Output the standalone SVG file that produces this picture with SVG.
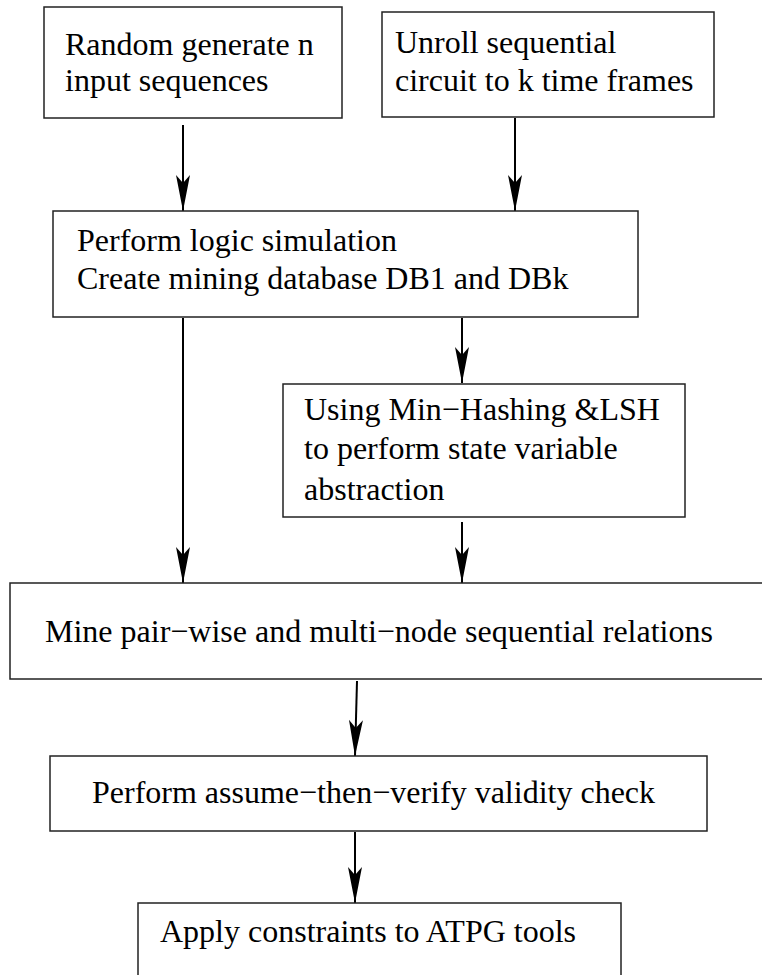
<svg xmlns="http://www.w3.org/2000/svg" width="762" height="975" viewBox="0 0 762 975">
  <style>
    .box { fill: #ffffff; stroke: #222222; stroke-width: 1.5; }
    .lbl { font-family: "Liberation Serif", "Times New Roman", serif; font-size: 32px; fill: #000000; }
    .wire { stroke: #000000; stroke-width: 2; fill: none; marker-end: url(#head); }
  </style>
  <defs>
    <!-- long barbed arrowhead, tip at the path end -->
    <marker id="head" markerUnits="userSpaceOnUse" markerWidth="40" markerHeight="16" viewBox="0 -8 38 16" refX="36" refY="0" orient="auto">
      <path d="M36,0 L0,-7 L8,0 L0,7 Z" fill="#000000"/>
    </marker>
  </defs>
  <rect width="762" height="975" fill="#ffffff"/>

  <g id="connectors">
    <line class="wire" x1="183" y1="125" x2="183" y2="211"/>
    <line class="wire" x1="515" y1="118" x2="515" y2="211"/>
    <line class="wire" x1="462" y1="318" x2="462" y2="383"/>
    <line class="wire" x1="183" y1="318" x2="183" y2="583"/>
    <line class="wire" x1="462" y1="522" x2="462" y2="583"/>
    <line class="wire" x1="357" y1="681" x2="355" y2="756"/>
    <line class="wire" x1="355" y1="832" x2="355" y2="903"/>
  </g>

  <g id="random-inputs">
    <rect class="box" x="44" y="7" width="298" height="111"/>
    <text class="lbl" x="65" y="55">Random generate n</text>
    <text class="lbl" x="65" y="91">input sequences</text>
  </g>

  <g id="unroll">
    <rect class="box" x="382" y="12" width="332" height="105"/>
    <text class="lbl" x="395" y="53">Unroll sequential</text>
    <text class="lbl" x="395" y="91">circuit to k time frames</text>
  </g>

  <g id="simulation">
    <rect class="box" x="53" y="211" width="585" height="106"/>
    <text class="lbl" x="77" y="251">Perform logic simulation</text>
    <text class="lbl" x="77" y="289">Create mining database DB1 and DBk</text>
  </g>

  <g id="abstraction">
    <rect class="box" x="283" y="384" width="402" height="133"/>
    <text class="lbl" x="304" y="420">Using Min−Hashing &amp;LSH</text>
    <text class="lbl" x="304" y="459">to perform state variable</text>
    <text class="lbl" x="304" y="500">abstraction</text>
  </g>

  <g id="mine-relations">
    <rect class="box" x="10" y="583" width="770" height="96"/>
    <text class="lbl" x="45" y="642">Mine pair−wise and multi−node sequential relations</text>
  </g>

  <g id="validity-check">
    <rect class="box" x="50" y="756" width="657" height="75"/>
    <text class="lbl" x="92" y="803">Perform assume−then−verify validity check</text>
  </g>

  <g id="apply-constraints">
    <rect class="box" x="138" y="903" width="483" height="90"/>
    <text class="lbl" x="160" y="942">Apply constraints to ATPG tools</text>
  </g>
</svg>
